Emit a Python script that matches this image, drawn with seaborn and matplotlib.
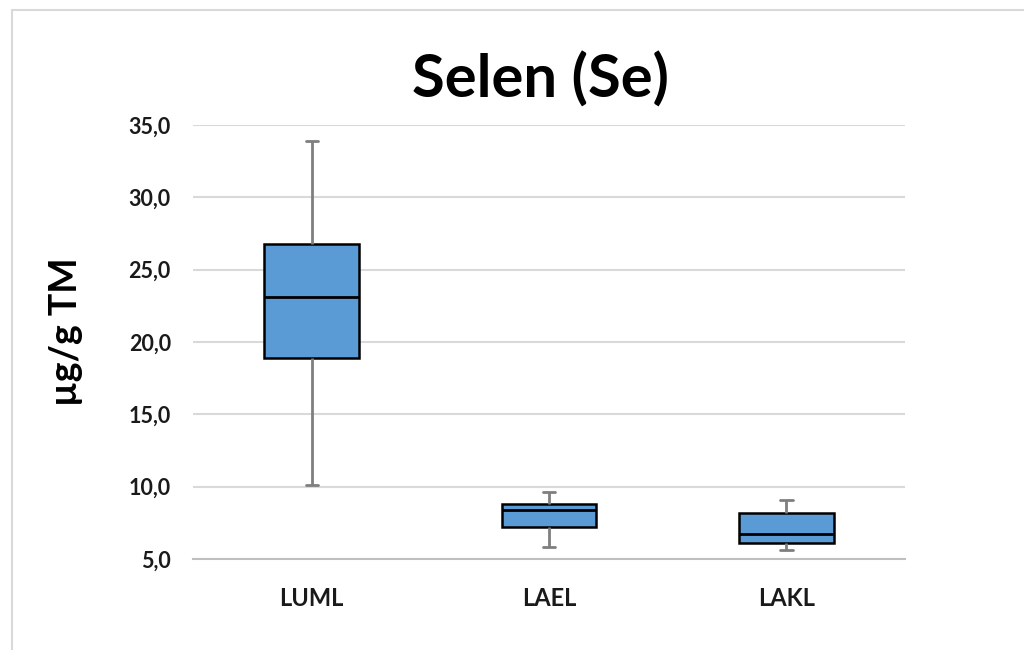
import numpy as np
import pandas as pd
import matplotlib
matplotlib.use("Agg")
import matplotlib.pyplot as plt
from matplotlib.ticker import FuncFormatter, FixedLocator
from matplotlib.patches import Rectangle
import seaborn as sns

# five-number summaries (min, Q1, median, Q3, max)
categories = ["LUML", "LAEL", "LAKL"]
luml = [10.1, 18.9, 23.1, 26.8, 33.9]
lael = [5.8, 7.2, 8.4, 8.8, 9.6]
lakl = [5.6, 6.1, 6.7, 8.2, 9.1]
yticks = [5, 10, 15, 20, 25, 30, 35]
title = "Selen (Se)"
ylabel = "µg/g TM"

df = pd.DataFrame({
    "group": np.repeat(categories, 5),
    "value": luml + lael + lakl,
})

sns.set_theme(style="white")
plt.rcParams["font.family"] = ["Lato", "DejaVu Sans"]

fig = plt.figure(figsize=(10.24, 6.5), dpi=100)
ax = fig.add_axes([0.1885, 0.14, 0.6953, 0.6677])

# outer light-gray chart border
fig.patches.append(Rectangle((12 / 1024, -0.01), 1.02, 1 - 10 / 650 + 0.01,
                             transform=fig.transFigure, fill=False,
                             edgecolor="#d9d9d9", linewidth=1.5, zorder=0))

sns.boxplot(data=df, x="group", y="value", order=categories, ax=ax,
            color="#5B9BD5", saturation=1, width=0.4, whis=(0, 100),
            showfliers=False,
            boxprops=dict(edgecolor="black", linewidth=1.8),
            medianprops=dict(color="black", linewidth=2),
            whiskerprops=dict(color="#7f7f7f", linewidth=2),
            capprops=dict(color="#7f7f7f", linewidth=2, gid="cap"))

# narrow the caps
for ln in ax.lines:
    if ln.get_gid() == "cap":
        xd = np.asarray(ln.get_xdata(), dtype=float)
        c = xd.mean()
        span = xd.max() - xd.min()
        if span > 0:
            ln.set_xdata(c + (xd - c) * 0.052 / span)

ax.set_ylim(5, 35)
ax.set_xlim(-0.5, 2.5)
ax.set_yticks(yticks)
ax.yaxis.set_major_formatter(FuncFormatter(lambda v, p: f"{v:.1f}".replace(".", ",")))
ax.grid(axis="y", color="#d9d9d9", linewidth=1.5)
ax.set_axisbelow(True)

for s in ["top", "right", "left"]:
    ax.spines[s].set_visible(False)
ax.spines["bottom"].set_color("#bfbfbf")
ax.spines["bottom"].set_linewidth(1.5)

ax.tick_params(axis="y", length=0, pad=16, labelsize=15.5)
ax.tick_params(axis="x", which="major", length=0, pad=20, labelsize=17)
ax.xaxis.set_minor_locator(FixedLocator([-0.5, 0.5, 1.5, 2.5]))
ax.tick_params(axis="x", which="minor", length=7, width=1.5, color="#bfbfbf", direction="out")
for lab in ax.get_yticklabels() + ax.get_xticklabels():
    lab.set_fontweight("bold")
    lab.set_color("#1a1a1a")

ax.set_xlabel("")
ax.set_ylabel(ylabel, fontsize=27, fontweight="bold", color="black")
ax.yaxis.set_label_coords(-0.155, 0.523)
fig.text(540 / 1024, 1 - 80 / 650, title, ha="center", va="center",
         fontsize=43, fontweight="bold", color="black")

fig.savefig("out.png", dpi=100)
